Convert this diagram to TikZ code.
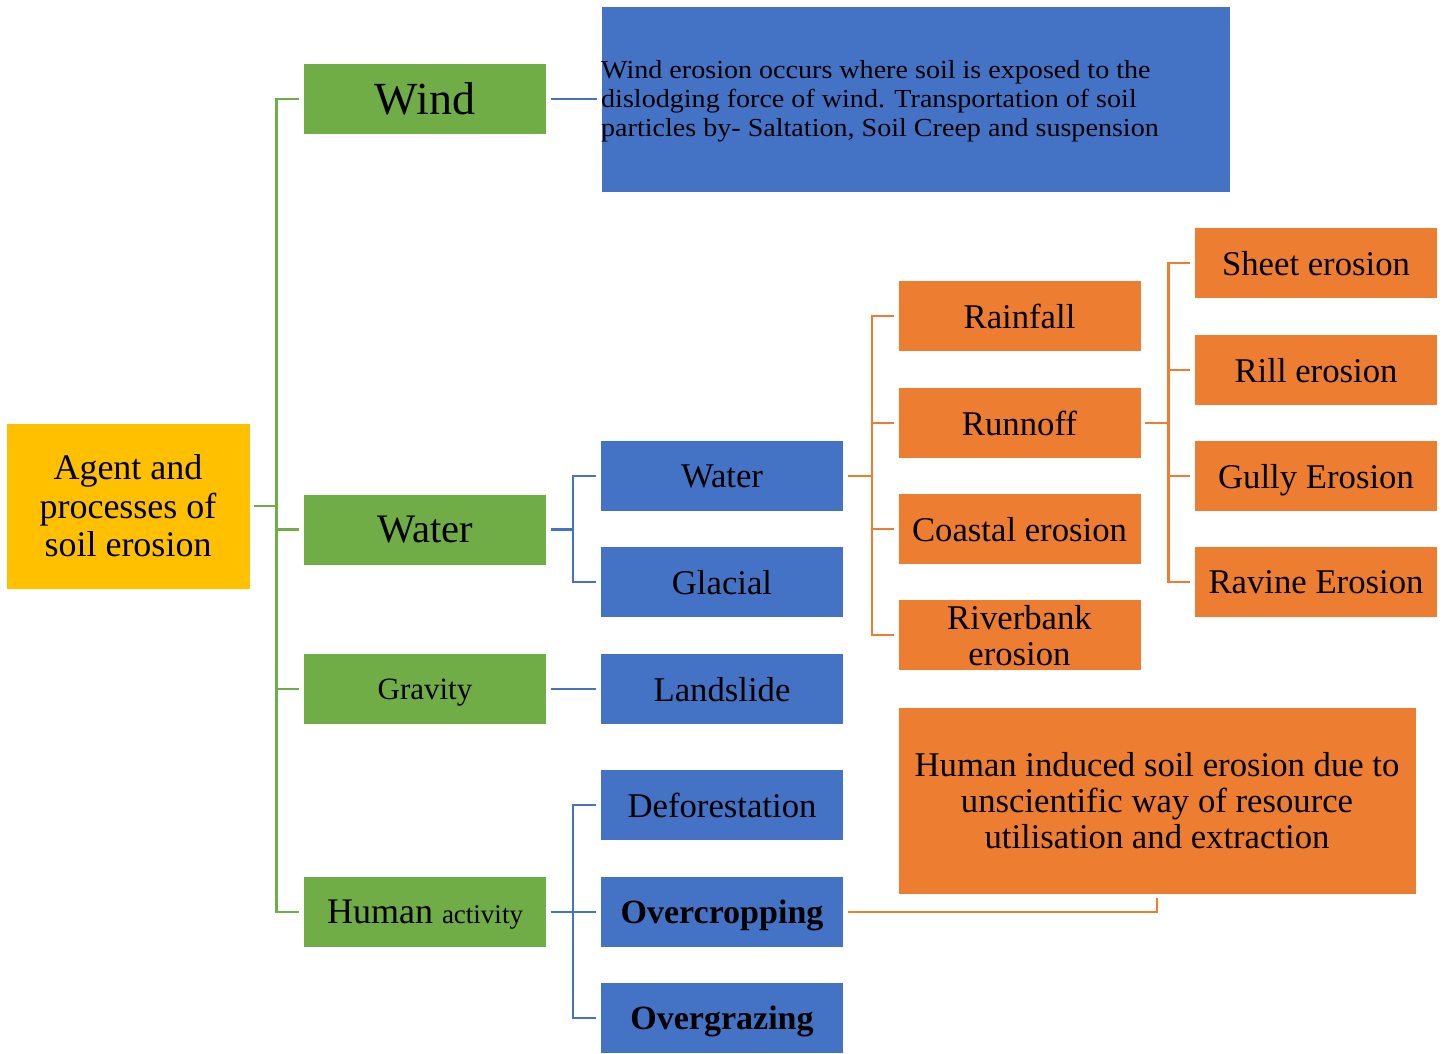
\documentclass[tikz,border=0pt]{standalone}
\usepackage{fontspec}
\setmainfont{Liberation Serif}
\newfontfamily\descfont[FakeStretch=1.08]{Liberation Serif}
\definecolor{agreen}{HTML}{70AD47}
\definecolor{ablue}{HTML}{4472C4}
\definecolor{aorange}{HTML}{ED7D31}
\definecolor{ayellow}{HTML}{FFC000}

\begin{document}
\begin{tikzpicture}[
    x=1pt, y=-1pt, % 按像素取坐标，y轴向下
    box/.style={draw=white, line width=0.8pt, minimum width=243, minimum height=71,
        inner sep=0pt, align=center, text depth=0pt, font=\fontsize{34.7}{36}\selectfont},
    gbox/.style={box, fill=agreen},
    bbox/.style={box, fill=ablue},
    obox/.style={box, fill=aorange},
    link/.style={line width=2.5pt, shorten <=4pt, shorten >=4pt}
]
    \useasboundingbox (0,0) rectangle (1448,1054);

    % 根节点
    \node[box, fill=ayellow, minimum width=244, minimum height=166,
        font=\fontsize{36}{38.5}\selectfont] (root) at (128,506)
        {Agent and\\processes of\\soil erosion};

    % 第二列：营力 (绿色)
    \node[gbox, font=\fontsize{46}{50}\selectfont] (wind) at (425,99) {Wind};
    \node[gbox, font=\fontsize{40.5}{44}\selectfont] (waterg) at (425,529.5) {Water};
    \node[gbox, font=\fontsize{31}{34}\selectfont] (gravity) at (425,689) {Gravity};
    \node[gbox, font=\fontsize{36}{40}\selectfont] (human) at (425,912)
        {Human {\fontsize{27}{30}\selectfont activity}};

    % 风蚀说明
    \node[box, fill=ablue, minimum width=629, minimum height=186] (winddesc) at (915.5,99) {};
    \node[anchor=north west, inner sep=0pt, align=left, font=\descfont\fontsize{26}{29}\selectfont]
        (winddesctxt) at (601,60)
        {Wind erosion occurs where soil is exposed to the\\
         dislodging force of wind. Transportation of soil\\
         particles by- Saltation, Soil Creep and suspension};

    % 第三列 (蓝色)
    \foreach \y/\nm/\txt in {476/waterb/Water, 582/glacial/Glacial, 689/landslide/Landslide,
        805/defor/Deforestation}
        \node[bbox] (\nm) at (722,\y) {\txt};
    \node[bbox, font=\fontsize{34}{36}\selectfont\bfseries] (overcrop) at (722,912) {Overcropping};
    \node[bbox, font=\fontsize{34}{36}\selectfont\bfseries] (overgraz) at (722,1018) {Overgrazing};

    % 第四列：水蚀过程 (橙色)
    \foreach \y/\nm/\txt in {316/rainfall/Rainfall, 423/runoff/Runnoff, 529/coastal/Coastal erosion,
        635/riverbank/{Riverbank\\erosion}}
        \node[obox] (\nm) at (1019.5,\y) {\txt};

    % 第五列：径流侵蚀类型
    \foreach \y/\nm/\txt in {263/sheet/Sheet erosion, 370/rill/Rill erosion, 476/gully/Gully Erosion,
        582/ravine/Ravine Erosion}
        \node[obox] (\nm) at (1316,\y) {\txt};

    % 人为侵蚀说明
    \node[obox, minimum width=518, minimum height=187] (induced) at (1157,800.5)
        {Human induced soil erosion due to\\unscientific way of resource\\utilisation and extraction};

    % 连线
    \foreach \nm in {wind, waterg, gravity, human}
        \draw[link, agreen] (root.east) -- ++(26,0) |- (\nm.west);
    \draw[link, ablue] (wind.east) -- (wind.east -| winddesc.west);
    \foreach \nm in {waterb, glacial}
        \draw[link, ablue] (waterg.east) -- ++(26,0) |- (\nm.west);
    \draw[link, ablue] (gravity.east) -- (landslide.west);
    \foreach \nm in {defor, overcrop, overgraz}
        \draw[link, ablue] (human.east) -- ++(26,0) |- (\nm.west);
    \foreach \nm in {rainfall, runoff, coastal, riverbank}
        \draw[link, aorange] (waterb.east) -- ++(28,0) |- (\nm.west);
    \foreach \nm in {sheet, rill, gully, ravine}
        \draw[link, aorange] (runoff.east) -- ++(27,0) |- (\nm.west);
    \draw[link, aorange, line width=2pt] (overcrop.east) -| (induced.south);
\end{tikzpicture}
\end{document}
